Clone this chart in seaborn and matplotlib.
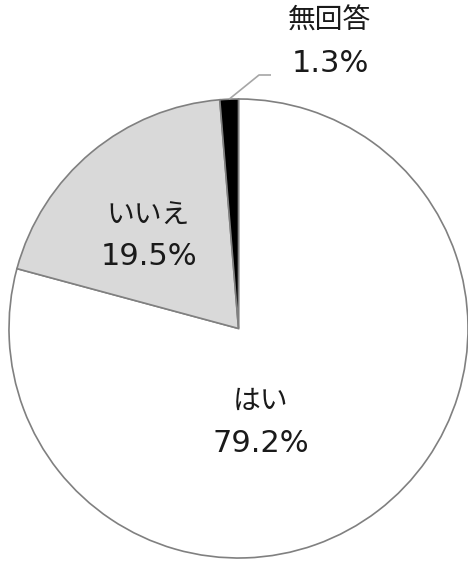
import matplotlib
matplotlib.use("Agg")
import matplotlib.pyplot as plt
import numpy as np
import seaborn as sns

sns.set_theme(style="white")
plt.rcParams['font.family'] = ['Noto Sans CJK JP', 'DejaVu Sans']

categories = ["はい", "いいえ", "無回答"]
values = [79.2, 19.5, 1.3]
colors = ["#ffffff", "#d9d9d9", "#000000"]

W, H = 468, 561
cx, cy, R = 238.5, 328.5, 229.5  # pie centre / radius in pixels


def px(x, y):
    """Pixel position (from top-left) -> data coordinates of the unit pie."""
    return (x - cx) / R, (cy - y) / R


fig = plt.figure(figsize=(W / 100, H / 100), dpi=100)
ax = fig.add_axes([0, 0, 1, 1])

wedges, _ = ax.pie(values, colors=colors, startangle=90, counterclock=False,
                   radius=1.0,
                   wedgeprops=dict(edgecolor="#808080", linewidth=1.2))

ax.set_xlim(-cx / R, (W - cx) / R)
ax.set_ylim(-(H - cy) / R, cy / R)
ax.set_aspect("equal")
ax.axis("off")

txt_color = "#1a1a1a"
# (category-label centre, value-label centre x & baseline) in pixels
label_pos = [((261, 401), (261, 452)),
             ((148, 216), (149, 265)),
             ((329, 21), (330, 72))]

for cat, val, (cpos, vpos) in zip(categories, values, label_pos):
    ax.text(*px(*cpos), cat, ha="center", va="center", fontsize=20,
            family=['Noto Sans CJK JP'], color=txt_color)
    ax.text(*px(*vpos), f"{val:.1f}%", ha="center", va="baseline", fontsize=22,
            family=['DejaVu Sans'], color=txt_color)

# leader line for the small slice
theta = np.deg2rad(90 - 360 * (values[0] + values[1] + values[2] / 2) / 100)
x0, y0 = np.cos(theta), np.sin(theta)
ex, ey = px(259, 75)
fx, _ = px(271, 75)
ax.plot([x0, ex, fx], [y0, ey, ey], color="#a6a6a6", lw=1.2,
        solid_capstyle="butt")

fig.savefig("out.png", dpi=100)
